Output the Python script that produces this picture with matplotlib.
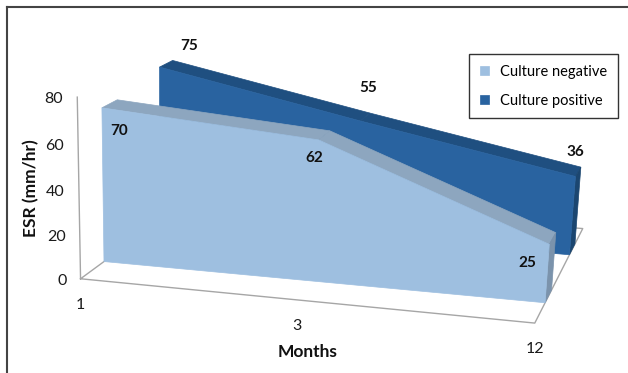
import numpy as np
import matplotlib
matplotlib.use("Agg")
import matplotlib.pyplot as plt
from matplotlib.patches import Polygon

plt.rcParams["font.family"] = ["Lato", "DejaVu Sans"]

# ---- data ----
categories = ["1", "3", "12"]
series_names = ["Culture negative", "Culture positive"]
negative = [70, 62, 25]
positive = [75, 55, 36]
yticks = [0, 20, 40, 60, 80]

# ---- layout: perspective camera (category index, value, depth) -> pixels ----
P = np.array([
    [203.606, -0.0738372, 142.682, 80.5478],
    [7.95371, -2.31194, -47.4196, 278.773],
    [-0.0439554, -0.000425031, 0.169765, 1.0],
])
DEPTHS = {"neg": (0.1875, 0.3125), "pos": (0.6875, 0.8125)}
COLORS = {
    "neg": dict(front="#9ebfe0", top="#8da6bf", side="#7b93ac"),
    "pos": dict(front="#2963a0", top="#1f4f80", side="#1b4670"),
}
# label offsets in screen pixels (right, down)
LABEL_OFFS = {"neg": [(17, 23), (-4, 18), (-22, 19)],
              "pos": [(30, -21), (8, -33), (0, -24)]}


def proj(X, Y, Z):
    h = P @ np.array([X, Y, Z, 1.0])
    return h[0] / h[2], h[1] / h[2]


fig = plt.figure(figsize=(6.28, 3.73), dpi=100)
ax = fig.add_axes([0, 0, 1, 1])
ax.set_xlim(0, 628)
ax.set_ylim(373, 0)
ax.axis("off")

n = len(categories)
xs = np.arange(n)
grid_c = "#a6a6a6"

# floor outline and value axis line
floor = [(0, 0, 0), (n - 1, 0, 0), (n - 1, 0, 1), (0, 0, 1), (0, 0, 0)]
fx, fy = zip(*[proj(*p) for p in floor])
ax.plot(fx, fy, color=grid_c, lw=1, zorder=1)
vx, vy = zip(*[proj(0, v, 0) for v in (0, max(yticks))])
ax.plot(vx, vy, color=grid_c, lw=1, zorder=1)

handles = {}


def draw_series(key, vals, name, z0):
    zf, zb = DEPTHS[key]
    c = COLORS[key]
    for i in range(n - 1):
        quad = [proj(xs[i], vals[i], zf), proj(xs[i + 1], vals[i + 1], zf),
                proj(xs[i + 1], vals[i + 1], zb), proj(xs[i], vals[i], zb)]
        ax.add_patch(Polygon(quad, closed=True, fc=c["top"], ec=c["top"],
                             lw=0.5, zorder=z0))
    side = [proj(xs[-1], 0, zf), proj(xs[-1], vals[-1], zf),
            proj(xs[-1], vals[-1], zb), proj(xs[-1], 0, zb)]
    ax.add_patch(Polygon(side, closed=True, fc=c["side"], ec=c["side"],
                         lw=0.5, zorder=z0))
    front = [proj(xs[0], 0, zf)] + [proj(x, v, zf) for x, v in zip(xs, vals)] \
        + [proj(xs[-1], 0, zf)]
    p = Polygon(front, closed=True, fc=c["front"], ec=c["front"], lw=0.5,
                zorder=z0 + 0.5, label=name)
    ax.add_patch(p)
    handles[key] = p
    for x, v, (dx, dy) in zip(xs, vals, LABEL_OFFS[key]):
        ax.annotate(f"{v}", proj(x, v, zf), xytext=(dx, -dy),
                    textcoords="offset pixels", ha="center", va="center",
                    fontsize=11, fontweight="bold", color="#111111",
                    zorder=20)


draw_series("pos", positive, series_names[1], 3)
draw_series("neg", negative, series_names[0], 5)

# value tick labels
for t in yticks:
    x, y = proj(0, t, 0)
    ax.text(x - 14, y + 2, f"{t}", ha="right", va="center", fontsize=11.5,
            color="#1a1a1a")
# category tick labels
for x, lab in zip(xs, categories):
    px, py = proj(x, 0, 0)
    ax.text(px, py + 26, lab, ha="center", va="center", fontsize=11.5,
            color="#1a1a1a")

ax.text(31, 188, "ESR (mm/hr)", rotation=90, ha="center", va="center",
        fontsize=12.5, fontweight="bold", color="#111111")
ax.text(308, 352, "Months", ha="center", va="center", fontsize=12.5,
        fontweight="bold", color="#111111")

leg = ax.legend(handles=[handles["neg"], handles["pos"]],
                labels=series_names, loc="upper left",
                bbox_to_anchor=(469 / 628, 1 - 54 / 373), borderaxespad=0,
                fontsize=10.5, handlelength=0.6, handleheight=0.6,
                handletextpad=0.75, labelspacing=1.0, borderpad=0.75,
                fancybox=False, framealpha=1)
leg.get_frame().set_edgecolor("#333333")
leg.get_frame().set_linewidth(1.0)

# outer frame
ax.plot([7, 628], [7, 7], color="#444444", lw=1.5, clip_on=False, zorder=30)
ax.plot([7, 7], [7, 373], color="#444444", lw=1.5, clip_on=False, zorder=30)

fig.savefig("out.png", dpi=100)
